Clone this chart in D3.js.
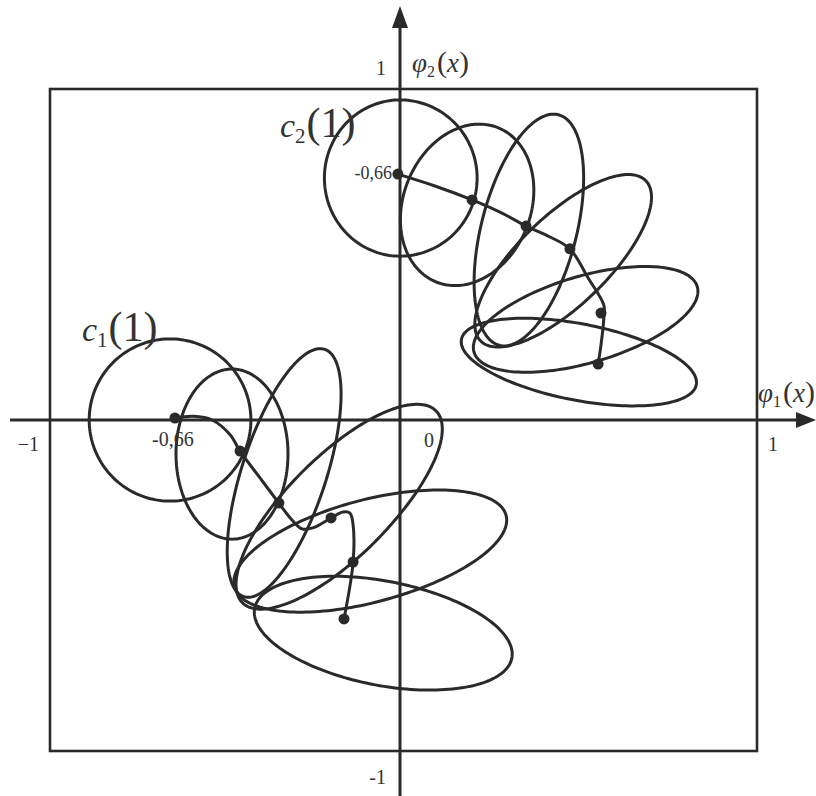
<!DOCTYPE html>
<html>
<head>
<meta charset="utf-8">
<script src="https://cdn.jsdelivr.net/npm/d3@7/dist/d3.min.js"></script>
<style>
    body { margin: 0; background: #fff; }
    text { font-family: "Liberation Serif", "DejaVu Serif", serif; fill: #333; }
</style>
</head>
<body>
<svg id="vis"></svg>
<script>
/**
 * Two chains of reachable-set ellipses with their centre trajectories
 */
window.onload = function(){
    setupVis();
};

// ellipses, data units: centre x,y / semi-axes rx,ry / tilt in degrees
const SET_1 = [
    { "x": -0.657, "y":  0.000, "rx": 0.231, "ry": 0.245, "tilt": 0 },
    { "x": -0.480, "y": -0.103, "rx": 0.160, "ry": 0.257, "tilt": 0 },
    { "x": -0.331, "y": -0.160, "rx": 0.391, "ry": 0.121, "tilt": 73 },
    { "x": -0.175, "y": -0.262, "rx": 0.400, "ry": 0.148, "tilt": 47 },
    { "x": -0.088, "y": -0.396, "rx": 0.400, "ry": 0.154, "tilt": 16 },
    { "x": -0.051, "y": -0.644, "rx": 0.372, "ry": 0.157, "tilt": -12 }
];
const SET_2 = [
    { "x": 0.000, "y": 0.731, "rx": 0.216, "ry": 0.236, "tilt": 0 },
    { "x": 0.188, "y": 0.650, "rx": 0.249, "ry": 0.180, "tilt": 73 },
    { "x": 0.361, "y": 0.574, "rx": 0.358, "ry": 0.134, "tilt": 77 },
    { "x": 0.457, "y": 0.481, "rx": 0.335, "ry": 0.130, "tilt": 47 },
    { "x": 0.520, "y": 0.304, "rx": 0.328, "ry": 0.130, "tilt": 18 },
    { "x": 0.501, "y": 0.175, "rx": 0.336, "ry": 0.115, "tilt": -12 }
];

// centre trajectories
const PATH_1 = [
    [-0.643, 0.006], [-0.590, 0.011], [-0.537, 0.000], [-0.486, -0.044],
    [-0.457, -0.094], [-0.400, -0.175], [-0.346, -0.251], [-0.311, -0.299],
    [-0.280, -0.329], [-0.249, -0.326], [-0.197, -0.296], [-0.163, -0.278],
    [-0.143, -0.281], [-0.134, -0.317], [-0.134, -0.429], [-0.160, -0.601]
];
const PATH_2 = [
    [-0.006, 0.743], [0.098, 0.707], [0.202, 0.665], [0.280, 0.628],
    [0.353, 0.586], [0.420, 0.553], [0.476, 0.517], [0.527, 0.429],
    [0.571, 0.347], [0.571, 0.308], [0.563, 0.227], [0.555, 0.169]
];
const DOTS_1 = [[-0.643, 0.006], [-0.457, -0.094], [-0.346, -0.251], [-0.197, -0.296], [-0.134, -0.429], [-0.160, -0.601]];
const DOTS_2 = [[-0.006, 0.743], [0.202, 0.665], [0.353, 0.586], [0.476, 0.517], [0.563, 0.323], [0.555, 0.169]];

const X_LABELS = [ { "v": -1, "t": "\u22121" }, { "v": 0, "t": "0" }, { "v": 1, "t": "1" } ];
const Y_LABELS = [ { "v": 1, "t": "1" }, { "v": -1, "t": "-1" } ];
const MARK_LABEL = "-0,66";

const WIDTH = 816;
const HEIGHT = 796;
const INK = "#2a2a2a";

function setupVis(){

    // the picture is a touch off-centre, so 0 gets its own stop
    let xScale = d3.scaleLinear()
        .domain([-1, 0, 1])
        .range([50, 400, 757]);

    let yScale = d3.scaleLinear()
        .domain([-1, 0, 1])
        .range([751, 420, 89]);

    let svg = d3.select("#vis")
        .attr("width", WIDTH)
        .attr("height", HEIGHT);

    // frame
    svg.append("rect")
        .attr("x", xScale(-1))
        .attr("y", yScale(1))
        .attr("width", xScale(1) - xScale(-1))
        .attr("height", yScale(-1) - yScale(1))
        .style("fill", "none")
        .style("stroke", INK)
        .style("stroke-width", 2.6);

    // axes with arrows
    svg.append("line")
        .attr("x1", 10).attr("x2", WIDTH - 16)
        .attr("y1", yScale(0)).attr("y2", yScale(0))
        .style("stroke", INK).style("stroke-width", 3);
    svg.append("line")
        .attr("x1", xScale(0)).attr("x2", xScale(0))
        .attr("y1", 22).attr("y2", HEIGHT)
        .style("stroke", INK).style("stroke-width", 3);
    svg.append("path")
        .attr("d", "M" + WIDTH + "," + yScale(0) + "L" + (WIDTH - 20) + "," + (yScale(0) - 8) + "L" + (WIDTH - 20) + "," + (yScale(0) + 8) + "Z")
        .style("fill", INK);
    svg.append("path")
        .attr("d", "M" + xScale(0) + ",6L" + (xScale(0) - 8) + ",28L" + (xScale(0) + 8) + ",28Z")
        .style("fill", INK);

    let ellipse = function(e){
        let a = e.tilt * Math.PI / 180;
        let pts = d3.range(0, 2 * Math.PI, Math.PI / 90).map(function(t){
            let dx = e.rx * Math.cos(t) * Math.cos(a) - e.ry * Math.sin(t) * Math.sin(a);
            let dy = e.rx * Math.cos(t) * Math.sin(a) + e.ry * Math.sin(t) * Math.cos(a);
            return [xScale(e.x + dx), yScale(e.y + dy)];
        });
        return d3.line().curve(d3.curveLinearClosed)(pts);
    };

    svg.selectAll("path.set")
        .data(SET_1.concat(SET_2))
        .enter()
        .append("path")
        .attr("class", "set")
        .attr("d", ellipse)
        .style("fill", "none")
        .style("stroke", INK)
        .style("stroke-width", 3);

    let traj = d3.line()
        .x(function(d){ return xScale(d[0]); })
        .y(function(d){ return yScale(d[1]); })
        .curve(d3.curveCatmullRom.alpha(0.5));

    svg.selectAll("path.traj")
        .data([PATH_1, PATH_2])
        .enter()
        .append("path")
        .attr("class", "traj")
        .attr("d", traj)
        .style("fill", "none")
        .style("stroke", INK)
        .style("stroke-width", 3);

    svg.selectAll("circle")
        .data(DOTS_1.concat(DOTS_2))
        .enter()
        .append("circle")
        .attr("cx", function(d){ return xScale(d[0]); })
        .attr("cy", function(d){ return yScale(d[1]); })
        .attr("r", 5.5)
        .style("fill", INK);

    // tick labels
    svg.selectAll("text.xl")
        .data(X_LABELS)
        .enter()
        .append("text")
        .attr("class", "xl")
        .text(function(d){ return d.t; })
        .attr("x", function(d){
            if (d.v < 0) return xScale(d.v) - 11;
            if (d.v > 0) return xScale(d.v) + 11;
            return xScale(d.v) + 24;
        })
        .attr("y", function(d){ return yScale(0) + (d.v == 0 ? 27 : 31); })
        .attr("font-size", "20px")
        .style("text-anchor", function(d){ return d.v < 0 ? "end" : "start"; });

    svg.selectAll("text.yl")
        .data(Y_LABELS)
        .enter()
        .append("text")
        .attr("class", "yl")
        .text(function(d){ return d.t; })
        .attr("x", xScale(0) - 14)
        .attr("y", function(d){ return d.v > 0 ? yScale(d.v) - 14 : yScale(d.v) + 33; })
        .attr("font-size", "20px")
        .style("text-anchor", "end");

    svg.append("text")
        .text(MARK_LABEL)
        .attr("x", xScale(DOTS_1[0][0]) - 2)
        .attr("y", yScale(0) + 26)
        .attr("font-size", "20px")
        .style("text-anchor", "middle");
    svg.append("text")
        .text(MARK_LABEL)
        .attr("x", xScale(0) - 8)
        .attr("y", yScale(DOTS_2[0][1]) + 5)
        .attr("font-size", "18px")
        .style("text-anchor", "end");

    // c1(1), c2(1)
    let setLabel = function(x, y, sub){
        let t = svg.append("text").attr("x", x).attr("y", y);
        t.append("tspan").text("c").attr("font-size", "34px").style("font-style", "italic");
        t.append("tspan").text(sub).attr("font-size", "21px").attr("dy", 6);
        t.append("tspan").text("(1)").attr("font-size", "42px").attr("dy", -6).attr("dx", 1);
    };
    setLabel(82, 341, "1");
    setLabel(280, 137, "2");

    // axis names
    let axisLabel = function(x, y, sub){
        let t = svg.append("text").attr("x", x).attr("y", y);
        t.append("tspan").text("\u03c6").attr("font-size", "27px").style("font-style", "italic");
        t.append("tspan").text(sub).attr("font-size", "16px").attr("dy", 5);
        t.append("tspan").text("(").attr("font-size", "30px").attr("dy", -5).attr("dx", 2);
        t.append("tspan").text("x").attr("font-size", "27px").style("font-style", "italic");
        t.append("tspan").text(")").attr("font-size", "30px");
    };
    axisLabel(412, 72, "2");
    axisLabel(758, 402, "1");
}
</script>
</body>
</html>
